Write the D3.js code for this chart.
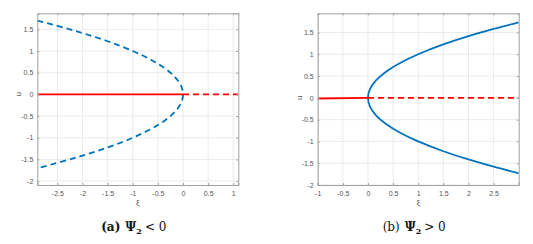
<!DOCTYPE html>
<html>
<head>
<meta charset="utf-8">
<script src="https://cdn.jsdelivr.net/npm/d3@7"></script>
<style>
  body { margin: 0; background: #fff; }
  svg text { font-family: "Liberation Sans", Arial, sans-serif; }
</style>
</head>
<body>
<div id="chart"></div>
<script>
// values
// panel (a): Psi2 < 0, parabola opening to the left (dashed), u = 0 solid then dashed
const aXTicks = [-2.5, -2, -1.5, -1, -0.5, 0, 0.5, 1];
const aYTicks = [-2, -1.5, -1, -0.5, 0, 0.5, 1, 1.5];
const aXDomain = [-2.9, 1.1];
const aYDomain = [-2.09, 1.87];
// [xi, u] along the branch, top to bottom
const aBranch = [[-2.9, 1.703], [-2.5, 1.58], [-2, 1.414], [-1.5, 1.225], [-1, 1], [-0.64, 0.8],
  [-0.36, 0.6], [-0.16, 0.4], [-0.04, 0.2], [0, 0], [-0.04, -0.2], [-0.16, -0.4], [-0.36, -0.6],
  [-0.64, -0.8], [-1, -1], [-1.5, -1.225], [-2, -1.414], [-2.5, -1.58], [-2.9, -1.703]];
const aTrivialSolid = [[-2.9, 0], [0, 0]];
const aTrivialDash = [[0, 0], [1.1, 0]];

// panel (b): Psi2 > 0, parabola opening to the right (solid)
const bXTicks = [-1, -0.5, 0, 0.5, 1, 1.5, 2, 2.5];
const bYTicks = [-2, -1.5, -1, -0.5, 0, 0.5, 1, 1.5];
const bXDomain = [-1, 3];
const bYDomain = [-2, 1.94];
const bBranch = [[3, 1.732], [2.5, 1.58], [2, 1.414], [1.5, 1.225], [1, 1], [0.64, 0.8],
  [0.36, 0.6], [0.16, 0.4], [0.04, 0.2], [0, 0], [0.04, -0.2], [0.16, -0.4], [0.36, -0.6],
  [0.64, -0.8], [1, -1], [1.5, -1.225], [2, -1.414], [2.5, -1.58], [3, -1.732]];
const bTrivialSolid = [[-1, -0.015], [0, 0]];
const bTrivialDash = [[0, 0], [3, 0]];

const blue = "#0072bd", red = "#ff0000";

const svg = d3.select("#chart").append("svg")
    .attr("width", 533)
    .attr("height", 244);

function panel(opt) {
    const left = opt.left, top = 13.3, w = 201, h = 171.7;
    const g = svg.append("g").attr("transform", `translate(${left},${top})`);

    const x = d3.scaleLinear().domain(opt.xDomain).range([0, w]);
    const y = d3.scaleLinear().domain(opt.yDomain).range([h, 0]);

    // grid
    g.append("g").selectAll("line").data(opt.xTicks).join("line")
        .attr("x1", d => x(d)).attr("x2", d => x(d))
        .attr("y1", 0).attr("y2", h)
        .attr("stroke", "#e6e6e6").attr("stroke-width", 0.8);
    g.append("g").selectAll("line").data(opt.yTicks).join("line")
        .attr("y1", d => y(d)).attr("y2", d => y(d))
        .attr("x1", 0).attr("x2", w)
        .attr("stroke", "#e6e6e6").attr("stroke-width", 0.8);

    const line = d3.line().x(d => x(d[0])).y(d => y(d[1]));
    const curve = d3.line().x(d => x(d[0])).y(d => y(d[1])).curve(d3.curveMonotoneY);

    const clip = "clip" + opt.id;
    g.append("clipPath").attr("id", clip).append("rect").attr("width", w).attr("height", h);
    const plot = g.append("g").attr("clip-path", `url(#${clip})`);

    plot.append("path").attr("d", curve(opt.branch))
        .attr("fill", "none").attr("stroke", blue).attr("stroke-width", 1.8)
        .attr("stroke-dasharray", opt.branchDashed ? "6,4" : null);
    plot.append("path").attr("d", line(opt.solid))
        .attr("fill", "none").attr("stroke", red).attr("stroke-width", 1.8);
    plot.append("path").attr("d", line(opt.dash))
        .attr("fill", "none").attr("stroke", red).attr("stroke-width", 1.8)
        .attr("stroke-dasharray", "6,4");

    // axes (ticks inside, box on)
    const ax = d3.axisBottom(x).tickValues(opt.xTicks).tickSize(-2).tickPadding(6).tickFormat(d3.format("~g"));
    const ay = d3.axisLeft(y).tickValues(opt.yTicks).tickSize(-2).tickPadding(4).tickFormat(d3.format("~g"));
    g.append("g").attr("transform", `translate(0,${h})`).call(ax);
    g.append("g").call(ay);
    g.append("g").call(d3.axisTop(x).tickValues(opt.xTicks).tickSize(-2).tickFormat(""));
    g.append("g").attr("transform", `translate(${w},0)`)
        .call(d3.axisRight(y).tickValues(opt.yTicks).tickSize(-2).tickFormat(""));
    g.selectAll(".domain").attr("stroke", "#a0a0a0").attr("stroke-width", 1);
    g.selectAll(".tick line").attr("stroke", "#a0a0a0");
    g.selectAll(".tick text").attr("fill", "#555").style("font-size", "7px");
    g.selectAll(".tick text").text(function () { return d3.select(this).text().replace("\u2212", "-"); });

    g.append("text")
        .attr("x", w / 2).attr("y", h + 20)
        .attr("text-anchor", "middle").attr("fill", "#555")
        .style("font-size", "8px").text("ξ");
    g.append("text")
        .attr("transform", `translate(${-16},${y(0)}) rotate(-90)`)
        .attr("text-anchor", "middle").attr("fill", "#555")
        .style("font-size", "8px").text("u");

    // caption
    const cap = svg.append("text")
        .attr("x", left + w / 2 - 4).attr("y", 231)
        .attr("text-anchor", "middle")
        .style("font-family", "'DejaVu Serif', 'Liberation Serif', serif")
        .style("font-size", "12px").attr("fill", "#111");
    cap.append("tspan").style("font-weight", opt.boldLabel ? "bold" : "normal").text(opt.label);
    cap.append("tspan").attr("dx", 5).style("font-weight", "bold").text("Ψ");
    cap.append("tspan").attr("dy", 2.5).style("font-size", "8px").style("font-weight", "bold").text("2");
    cap.append("tspan").attr("dy", -2.5).attr("dx", 3).text(opt.rel);
}

panel({ id: "a", left: 37.3, xDomain: aXDomain, yDomain: aYDomain, xTicks: aXTicks, yTicks: aYTicks,
    branch: aBranch, branchDashed: true, solid: aTrivialSolid, dash: aTrivialDash,
    label: "(a)", boldLabel: true, rel: "< 0" });
panel({ id: "b", left: 317.7, xDomain: bXDomain, yDomain: bYDomain, xTicks: bXTicks, yTicks: bYTicks,
    branch: bBranch, branchDashed: false, solid: bTrivialSolid, dash: bTrivialDash,
    label: "(b)", boldLabel: false, rel: "> 0" });
</script>
</body>
</html>
